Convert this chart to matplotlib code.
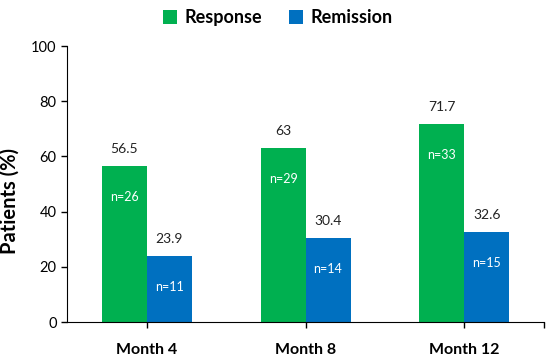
import matplotlib.pyplot as plt
import numpy as np

months = ['Month 4', 'Month 8', 'Month 12']
response = [56.5, 63, 71.7]
remission = [23.9, 30.4, 32.6]
response_n = ['n=26', 'n=29', 'n=33']
remission_n = ['n=11', 'n=14', 'n=15']
value_labels_resp = ['56.5', '63', '71.7']
value_labels_rem = ['23.9', '30.4', '32.6']

GREEN = '#00B050'
BLUE = '#0070C0'

plt.rcParams['font.family'] = ['Lato', 'DejaVu Sans']

fig = plt.figure(figsize=(5.5, 3.57), dpi=100)
ax = fig.add_axes([0.122, 0.098, 0.867, 0.773])

x = np.arange(len(months))
w = 0.283
b1 = ax.bar(x - w / 2, response, w, color=GREEN, label='Response')
b2 = ax.bar(x + w / 2, remission, w, color=BLUE, label='Remission')

for bars, vals, ns in [(b1, value_labels_resp, response_n), (b2, value_labels_rem, remission_n)]:
    for bar, v, n in zip(bars, vals, ns):
        cx = bar.get_x() + bar.get_width() / 2
        top = bar.get_height()
        ax.annotate(v, (cx, top), xytext=(0, 8), textcoords='offset points',
                    ha='center', va='bottom', fontsize=10, color='#222222')
        ax.annotate(n, (cx, top), xytext=(0, -22), textcoords='offset points',
                    ha='center', va='center', fontsize=9, color='white')

ax.set_xlim(-0.5, 2.5)
ax.set_ylim(0, 100)
ax.set_yticks([0, 20, 40, 60, 80, 100])
ax.set_xticks(list(x) + [2.5])
ax.set_xticklabels(months + [''], fontsize=11.5, fontweight='bold')
ax.tick_params(axis='y', labelsize=10.5, length=4, width=1)
ax.tick_params(axis='x', length=4, width=1, pad=11)
ax.set_ylabel('Patients (%)', fontsize=14.5, fontweight='bold')
ax.yaxis.set_label_coords(-0.1, 0.44)

ax.spines['top'].set_visible(False)
ax.spines['right'].set_visible(False)

fig.legend(loc='upper center', bbox_to_anchor=(0.505, 1.02), ncol=2, frameon=False,
           prop={'weight': 'bold', 'size': 13}, handlelength=0.8, handleheight=0.8,
           columnspacing=1.5, handletextpad=0.4)

plt.savefig('out.png', dpi=100)
